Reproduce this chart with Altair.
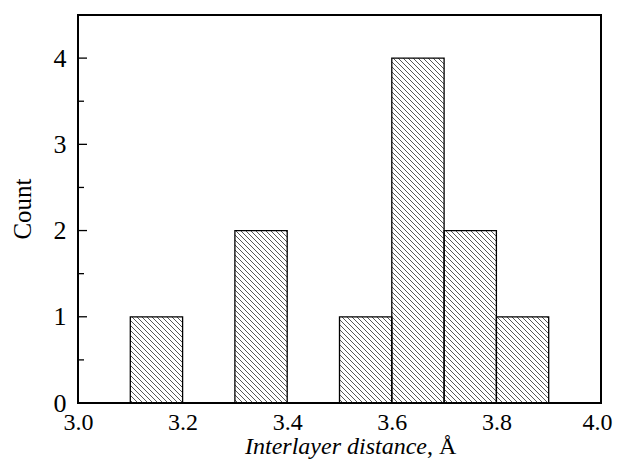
import altair as alt
import pandas as pd
import numpy as np

# Histogram data (bin edges and counts)
bin_start = [3.1, 3.3, 3.5, 3.6, 3.7, 3.8]
bin_end = [3.2, 3.4, 3.6, 3.7, 3.8, 3.9]
counts = [1, 2, 1, 4, 2, 1]

x_ticks = [3.0, 3.2, 3.4, 3.6, 3.8, 4.0]
y_major = [0, 1, 2, 3, 4]
y_minor = [0.5, 1.5, 2.5, 3.5]

W, H = 523, 388
XMIN, XMAX = 3.0, 4.0
YMIN, YMAX = 0.0, 4.5
FONT = "Liberation Serif"

bars = pd.DataFrame({"x0": bin_start, "x1": bin_end, "count": counts})

# hatch segments (45 degrees in screen space), derived from bar rectangles
sx = W / (XMAX - XMIN)
sy = H / (YMAX - YMIN)
step = 5.0
segs = []
for x0, x1, h in zip(bin_start, bin_end, counts):
    u0, u1 = (x0 - XMIN) * sx, (x1 - XMIN) * sx
    hv = h * sy
    k0 = int(np.floor(u0 / step))
    k1 = int(np.ceil((u1 + hv) / step))
    for k in range(k0, k1 + 1):
        c = k * step
        ua = max(u0, c - hv)
        ub = min(u1, c)
        if ub - ua <= 0.3:
            continue
        segs.append({
            "xa": XMIN + ua / sx, "ya": (c - ua) / sy,
            "xb": XMIN + ub / sx, "yb": (c - ub) / sy,
        })
hatch = pd.DataFrame(segs)

xs = alt.Scale(domain=[XMIN, XMAX], nice=False, zero=False)
ys = alt.Scale(domain=[YMIN, YMAX], nice=False)

base_x_axis = alt.Axis(values=x_ticks, format=".1f", ticks=False, domain=False,
                       grid=False, labelFont=FONT, labelFontSize=24, labelColor="black",
                       labelBaseline="alphabetic", labelPadding=26, title=None,
                       labelFlush=False,
                       labelAlign=alt.expr("datum.value >= 3.99 ? 'right' : 'center'"),
                       labelOffset=alt.expr("datum.value >= 3.99 ? 11 : 0"))
base_y_axis = alt.Axis(values=y_major, format="d", ticks=False, domain=False, grid=False,
                       labelFont=FONT, labelFontSize=26, labelColor="black", labelPadding=12,
                       title=None)

hatch_layer = alt.Chart(hatch).mark_rule(color="#444", strokeWidth=0.9).encode(
    x=alt.X("xa:Q", scale=xs, axis=base_x_axis),
    y=alt.Y("ya:Q", scale=ys, axis=base_y_axis),
    x2="xb:Q",
    y2="yb:Q",
)

bar_layer = alt.Chart(bars).mark_rect(fill=None, stroke="black", strokeWidth=1.3).encode(
    x=alt.X("x0:Q", scale=xs),
    x2="x1:Q",
    y=alt.Y("count:Q", scale=ys),
    y2=alt.datum(0),
)

major = pd.DataFrame({"v": y_major[1:]})
minor = pd.DataFrame({"v": y_minor})
major_ticks = alt.Chart(major).mark_rule(color="black", strokeWidth=1.3).encode(
    y=alt.Y("v:Q", scale=ys), x=alt.value(0), x2=alt.value(9))
minor_ticks = alt.Chart(minor).mark_rule(color="black", strokeWidth=1.3).encode(
    y=alt.Y("v:Q", scale=ys), x=alt.value(0), x2=alt.value(6))

title_df = pd.DataFrame({"a": ["Interlayer distance"], "b": [", Å"], "c": ["Count"]})
t1 = alt.Chart(title_df).mark_text(font=FONT, fontSize=24, fontStyle="italic", align="right",
                                   baseline="alphabetic", color="black").encode(
    text="a:N", x=alt.value(349), y=alt.value(439))
t2 = alt.Chart(title_df).mark_text(font=FONT, fontSize=24, align="left",
                                   baseline="alphabetic", color="black").encode(
    text="b:N", x=alt.value(349), y=alt.value(439))
t3 = alt.Chart(title_df).mark_text(font=FONT, fontSize=25, angle=270, align="center",
                                   baseline="middle", color="black").encode(
    text="c:N", x=alt.value(-55), y=alt.value(194))

chart = alt.layer(hatch_layer, bar_layer, major_ticks, minor_ticks, t1, t2, t3).properties(
    width=W, height=H,
    background="white",
    autosize=alt.AutoSizeParams(type="none"),
    padding={"left": 70, "top": 7, "right": 12, "bottom": 56},
).configure_view(stroke="black", strokeWidth=2)

chart.save("out.html", embed_options={"renderer": "svg", "actions": False})
